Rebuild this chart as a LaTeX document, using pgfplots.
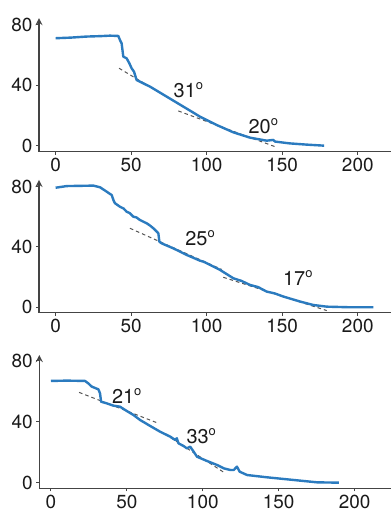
\documentclass[border=0pt]{standalone}
\usepackage{fontspec}
\setmainfont{TeX Gyre Heros}
\usepackage{pgfplots}
\pgfplotsset{compat=1.18}
\definecolor{curve}{HTML}{2B7BBF}
\definecolor{axisgray}{HTML}{444444}
\definecolor{txt}{HTML}{1A1A1A}
\definecolor{dashc}{HTML}{555555}
\newcommand{\dg}{\raisebox{0.78ex}{\fontsize{6.5}{6.5}\selectfont o}}
\pgfplotsset{
  panel/.style={
    scale only axis, width=176bp, anchor=south west,
    axis x line*=bottom, axis y line=left,
    axis line style={axisgray, line width=0.6bp},
    xtick={0,50,100,150,200}, ytick={0,40,80},
    tick align=outside, major tick length=1.5bp,
    tick style={axisgray, line width=0.5bp},
    ticklabel style={font=\fontsize{9.5}{11}\selectfont, text=txt, inner sep=1.6bp},
    /pgf/number format/assume math mode=true,
    clip=false,
  },
}
\tikzset{
  fit/.style={dashc, line width=0.5bp, dash pattern=on 1.8bp off 1.5bp},
  cur/.style={curve, line width=1.2bp, line join=round},
  lab/.style={font=\fontsize{10}{12}\selectfont, text=txt},
}
\begin{document}
\begin{tikzpicture}[x=1bp,y=1bp]
\path[use as bounding box] (0,0) rectangle (195.5,256);
% ---------- panel 1
\begin{axis}[panel, at={(19.5bp,180.15bp)}, height=66.85bp,
  xmin=-11, xmax=222, ymin=-4, ymax=84.6]
\addplot[fit] coordinates {(42,51.3) (100,16.5)};
\addplot[fit] coordinates {(81.2,23) (145.3,-0.7)};
\addplot[cur, no markers] coordinates {
(0,71.2) (10,71.6) (20.5,72.3) (30,72.6) (36,72.9) (41.5,72.7) (42.6,70) (43.7,67.8)
(44.8,59) (47,57.9) (48.8,54.6) (50.3,51.3) (51.9,49) (53.6,43.5) (62.5,39.1)
(73.5,32.5) (84.5,25.9) (95.6,19.2) (106.6,13.7) (117.7,8.8) (128.7,5.3)
(139.7,3.3) (144,3.8) (145.3,2.7) (155,1.5) (166,0.7) (177.7,0)};
\node[lab] at (axis cs:87.9,36.9) {31\dg};
\node[lab] at (axis cs:137.5,13) {20\dg};
\end{axis}
% ---------- panel 2
\begin{axis}[panel, at={(19.5bp,99.65bp)}, height=66.4bp,
  xmin=-11, xmax=222, ymin=-3.6, ymax=84.5]
\addplot[fit] coordinates {(49.2,52.4) (110,25.1)};
\addplot[fit] coordinates {(111,19.9) (179.5,-2.2)};
\addplot[cur, no markers] coordinates {
(0,79.3) (7.3,80.4) (25,80.7) (29.4,79.6) (33.8,76.7) (35.5,75.5) (37.1,74.5) (38.5,70.5) (39.3,69)
(42.6,66.7) (45,65.5) (47,63.4) (49,62.5) (51.4,60.1) (53.5,59.6) (55.8,57.9) (58,56.8) (60.3,55.7) (62.5,54.2) (64.7,52.4) (68,49.1)
(68.7,43.5) (70.2,42.4) (77.9,39.1) (86.8,34.7) (95.6,30.9) (98,30.2) (102.2,28.1)
(108.8,24.8) (117.7,19.2) (123,17.5) (128.7,14.8) (134,13.4) (139.7,10.4) (145,9.2) (150.8,7.1) (161.8,3.8)
(170.6,1.5) (179.5,0.4) (194.9,0) (210.4,0)};
\node[lab] at (axis cs:95.6,45.7) {25\dg};
\node[lab] at (axis cs:160.3,19.2) {17\dg};
\end{axis}
% ---------- panel 3
\begin{axis}[panel, at={(19.65bp,11.85bp)}, height=66.65bp, width=175.85bp,
  xmin=-7.7, xmax=224, ymin=-3.7, ymax=83.7]
\addplot[fit] coordinates {(18.5,59.2) (70.8,38.9)};
\addplot[fit] coordinates {(75,32) (114.9,6.1)};
\addplot[cur, no markers] coordinates {
(0,66.7) (10.3,66.9) (22.4,66.7) (24.6,65.1) (26.8,63) (31.2,61.2) (32.3,58.6)
(33,53.1) (36.7,52) (41.1,50.5) (45.5,49.8) (49.9,47) (54.3,44.4) (58.7,41.1)
(65.3,37.2) (71.9,33.4) (78.5,30.2) (81.8,28) (82.9,29.1) (84,25.8) (87.4,24)
(89.5,22.5) (91.7,23.6) (94,20.3) (96.2,17) (102.8,14.2) (109.4,11.6)
(113.8,9.4) (118.2,8.3) (120.4,8.3) (122.5,10.5) (124.3,7.2) (129.2,5)
(142.4,3.5) (153.4,2.4) (164.4,1.3) (175.4,0.2) (189.7,0)};
\node[lab] at (axis cs:49.9,56.8) {21\dg};
\node[lab] at (axis cs:99,30.6) {33\dg};
\end{axis}
\end{tikzpicture}
\end{document}
